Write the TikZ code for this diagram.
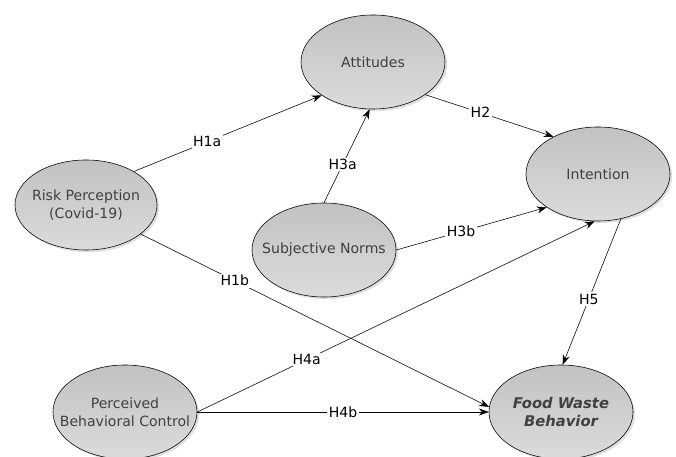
\documentclass[tikz,border=0pt]{standalone}
\usepackage{fontspec}
\setmainfont{DejaVu Sans}
\usetikzlibrary{shapes.geometric,shadows,arrows.meta}

\tikzset{
  latent/.style={ellipse,draw,thin,minimum width=3.6cm,minimum height=2.35cm,
    inner sep=0pt,top color=gray!48,bottom color=gray!28,
    drop shadow={opacity=0.25,shadow xshift=1.5pt,shadow yshift=-1.5pt}},
  lbl/.style={align=center,text=black!75,font=\fontsize{10}{12.5}\selectfont},
  path/.style={-{Stealth[length=7pt,width=5pt]},thin},
  hyp/.style={fill=white,inner sep=1pt,font=\fontsize{10}{12}\selectfont}
}

\begin{document}
\begin{tikzpicture}[x=0.025cm,y=-0.025cm]
  \useasboundingbox (0,0) rectangle (676,457);
  \node[latent,label={[lbl]center:Attitudes}] (att) at (373,62) {};
  \node[latent,label={[lbl]center:Intention}] (int) at (598,174) {};
  \node[latent,minimum width=3.55cm,minimum height=2.25cm,label={[lbl]center:Risk Perception\\(Covid-19)}] (risk) at (86,205) {};
  \node[latent,label={[lbl]center:Subjective Norms}] (sn) at (324,250) {};
  \node[latent,label={[lbl]center:Perceived\\Behavioral Control}] (pbc) at (125,412) {};
  \node[latent,label={[lbl,font=\fontsize{10.5}{13}\selectfont\bfseries\itshape]center:Food Waste\\Behavior}] (fwb) at (561,412) {};

  \draw[path] (risk.35) -- node[hyp,pos=0.39] {H1a} (att.213);
  \draw[path] (att.328) -- node[hyp,pos=0.43] {H2} (int.140);
  \draw[path] (sn.90) -- node[hyp,pos=0.41] {H3a} (att.266);
  \draw[path] (sn.0) -- node[hyp,pos=0.43] {H3b} (int.213);
  \draw[path] (risk.-28) -- node[hyp,pos=0.27] {H1b} (fwb.176);
  \draw[path] (pbc.east) -- node[hyp,pos=0.275] {H4a} (int.266);
  \draw[path] (pbc.east) -- node[hyp,pos=0.5] {H4b} (fwb.west);
  \draw[path] (int.297) -- node[hyp,pos=0.55] {H5} (fwb.88);
\end{tikzpicture}
\end{document}
